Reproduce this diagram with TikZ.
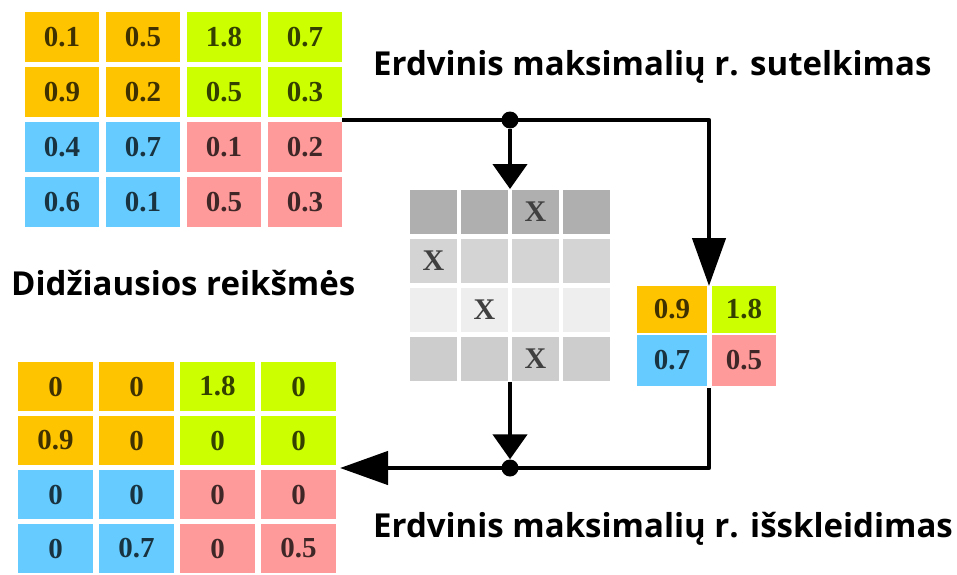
\documentclass[tikz,border=0pt]{standalone}
\usepackage{fontspec}
\usetikzlibrary{arrows.meta,calc}
\newfontfamily\labelfont{Open Sans}
\newfontfamily\numfont{Liberation Serif}
\definecolor{cOr}{HTML}{FFC400}
\definecolor{cLi}{HTML}{CCFF00}
\definecolor{cBl}{HTML}{66CCFF}
\definecolor{cPk}{HTML}{FF9A9A}
\definecolor{gA}{HTML}{AFAFAF}
\definecolor{gB}{HTML}{D4D4D4}
\definecolor{gC}{HTML}{EEEEEE}
\definecolor{gD}{HTML}{CDCDCD}
\tikzset{
  cell/.style={rectangle, inner sep=0pt, fill=#1, text=#1!25!black,
    font=\numfont\bfseries\fontsize{29}{29}\selectfont},
  mask/.style={rectangle, inner sep=0pt, fill=#1, text=black!75,
    minimum width=47pt, minimum height=44pt,
    font=\numfont\bfseries\fontsize{30}{30}\selectfont},
  flow/.style={line width=4.5pt, line join=round},
  bigtip/.style={-{Triangle[width=33pt,length=48pt]}},
  smalltip/.style={-{Triangle[width=34pt,length=25pt]}},
  junction/.style={circle, fill=black, inner sep=0pt, minimum size=17pt},
  lab/.style={inner sep=0pt, anchor=base west,
    font=\labelfont\bfseries\fontsize{33}{40}\selectfont}
}
\newcommand{\quadcolor}[2]{%
  \ifnum#1<3 \ifnum#2<3 \def\cc{cOr}\else\def\cc{cLi}\fi
  \else \ifnum#2<3 \def\cc{cBl}\else\def\cc{cPk}\fi\fi}
\begin{document}
\begin{tikzpicture}[x=1pt,y=-1pt]
\useasboundingbox (0,0) rectangle (957,574);

% input feature map
\foreach \row [count=\i] in {{0.1,0.5,1.8,0.7},{0.9,0.2,0.5,0.3},{0.4,0.7,0.1,0.2},{0.6,0.1,0.5,0.3}}{
  \foreach \v [count=\j] in \row {
    \quadcolor{\i}{\j}
    \node[cell=\cc, minimum width=74pt, minimum height=50pt]
      (a\i\j) at ({62+(\j-1)*81},{37+(\i-1)*55}) {\v};
  }
}

% switch (argmax) mask
\foreach \shade/\xcol [count=\i] in {gA/3,gB/1,gC/2,gD/3}{
  \foreach \j in {1,2,3,4}{
    \node[mask=\shade] (m\i\j) at ({433.5+(\j-1)*51},{212+(\i-1)*49})
      {\ifnum\j=\xcol X\fi};
  }
}

% pooled map
\node[cell=cOr, minimum width=70pt, minimum height=47pt] (p11) at (672,309.5) {0.9};
\node[cell=cLi, minimum width=64pt, minimum height=47pt] (p12) at (744,309.5) {1.8};
\node[cell=cBl, minimum width=70pt, minimum height=51pt] (p21) at (672,360.5) {0.7};
\node[cell=cPk, minimum width=64pt, minimum height=51pt] (p22) at (744,360.5) {0.5};

% unpooled map
\foreach \row [count=\i] in {{0,0,1.8,0},{0.9,0,0,0},{0,0,0,0},{0,0.7,0,0.5}}{
  \foreach \v [count=\j] in \row {
    \quadcolor{\i}{\j}
    \node[cell=\cc, minimum width=75pt, minimum height=49pt]
      (o\i\j) at ({55.5+(\j-1)*81},{386.5+(\i-1)*54}) {\v};
  }
}

% junctions and connector ends
\node[junction] (j1) at (510,120) {};
\node[junction] (j2) at (510,468) {};
\coordinate (inR) at (342,120);
\coordinate (pIn) at (709,286);
\coordinate (mIn) at (510,189);
\coordinate (mOut) at (510,382);
\coordinate (pOut) at (709,388);
\coordinate (outR) at (340,468);

\draw[flow, bigtip] (inR) -| (pIn);
\draw[flow, smalltip] (j1) -- (mIn);
\draw[flow, smalltip] (mOut) -- (j2);
\draw[flow, bigtip] (pOut) |- (outR);

% captions
\node[lab] (t1) at (373,75) {Erdvinis maksimalių r. sutelkimas};
\node[lab] (t3) at (11,295) {Didžiausios reikšmės};
\node[lab] (t2) at (373,537) {Erdvinis maksimalių r. išskleidimas};
\end{tikzpicture}
\end{document}
